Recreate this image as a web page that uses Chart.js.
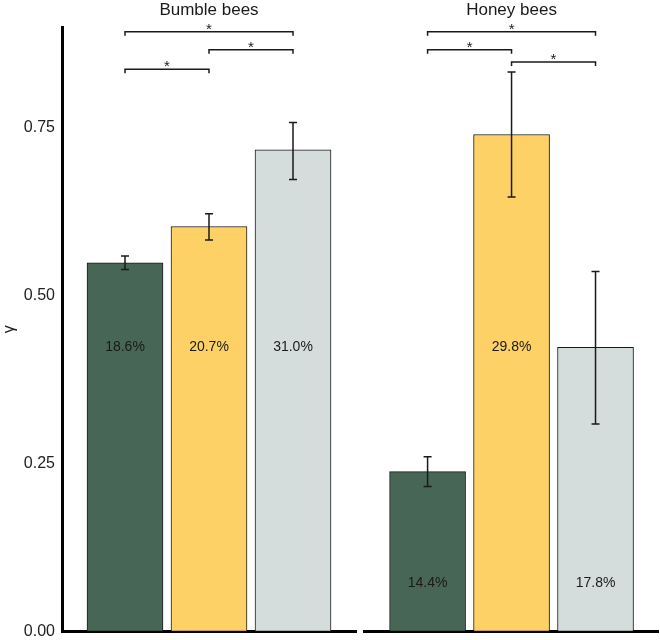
<!DOCTYPE html>
<html>
<head>
<meta charset="utf-8">
<script src="https://cdn.jsdelivr.net/npm/chart.js@4.4.1/dist/chart.umd.min.js"></script>
<style>
  html, body { margin: 0; padding: 0; background: #fff; }
  #wrap { position: relative; width: 660px; height: 640px; }
  #left { position: absolute; left: 0; top: 0; }
  #right { position: absolute; left: 360px; top: 0; }
</style>
</head>
<body>
<div id="wrap">
  <canvas id="left" width="360" height="640"></canvas>
  <canvas id="right" width="300" height="640"></canvas>
</div>
<script>
// data
const panelTitles = ['Bumble bees', 'Honey bees'];
const positions = [1, 2, 3];
const barColors = ['#486656', '#fdd166', '#d4dddc'];

const bumbleMeans = [0.549, 0.603, 0.717];
const bumbleLow = [0.539, 0.583, 0.673];
const bumbleHigh = [0.559, 0.622, 0.758];
const bumblePct = ['18.6%', '20.7%', '31.0%'];
const bumbleSig = [[0, 2, 0.893], [1, 2, 0.866], [0, 1, 0.837]];

const honeyMeans = [0.238, 0.740, 0.423];
const honeyLow = [0.216, 0.647, 0.309];
const honeyHigh = [0.260, 0.833, 0.536];
const honeyPct = ['14.4%', '29.8%', '17.8%'];
const honeySig = [[0, 2, 0.893], [0, 1, 0.866], [1, 2, 0.848]];

const yTicks = [0, 0.25, 0.5, 0.75];

const FONT = "'Liberation Sans', Arial, Helvetica, sans-serif";
const INK = '#1a1a1a';

function makePanel(id, title, means, low, high, pct, sig, showY, padL, padR) {
  const extras = {
    id: 'extras',
    afterDatasetsDraw(chart) {
      const ctx = chart.ctx;
      const xs = chart.scales.x, ys = chart.scales.y;
      const area = chart.chartArea;
      ctx.save();
      // error bars
      ctx.strokeStyle = INK;
      ctx.lineWidth = 1.5;
      positions.forEach((p, i) => {
        const x = xs.getPixelForValue(p);
        const y1 = ys.getPixelForValue(low[i]);
        const y2 = ys.getPixelForValue(high[i]);
        ctx.beginPath();
        ctx.moveTo(x, y1); ctx.lineTo(x, y2);
        ctx.moveTo(x - 4, y1); ctx.lineTo(x + 4, y1);
        ctx.moveTo(x - 4, y2); ctx.lineTo(x + 4, y2);
        ctx.stroke();
      });
      // percentage labels
      ctx.fillStyle = INK;
      ctx.font = '14px ' + FONT;
      ctx.textAlign = 'center';
      ctx.textBaseline = 'middle';
      positions.forEach((p, i) => {
        const x = xs.getPixelForValue(p);
        const yv = means[i] > 0.5 ? 0.423 : 0.072;
        ctx.fillText(pct[i], x, ys.getPixelForValue(yv));
      });
      // significance brackets
      ctx.lineWidth = 1.5;
      ctx.font = '15px ' + FONT;
      sig.forEach(([a, b, lvl]) => {
        const xa = xs.getPixelForValue(positions[a]);
        const xb = xs.getPixelForValue(positions[b]);
        const y = ys.getPixelForValue(lvl);
        ctx.beginPath();
        ctx.moveTo(xa, y + 4); ctx.lineTo(xa, y); ctx.lineTo(xb, y); ctx.lineTo(xb, y + 4);
        ctx.stroke();
        ctx.fillText('*', (xa + xb) / 2, y - 2);
      });
      // panel title
      ctx.font = '17px ' + FONT;
      ctx.fillText(title, (area.left + area.right) / 2, 10);
      ctx.restore();
    }
  };

  return new Chart(document.getElementById(id), {
    type: 'bar',
    data: {
      datasets: [{
        data: positions.map((x, i) => ({ x: x, y: means[i] })),
        backgroundColor: barColors,
        borderColor: INK,
        borderWidth: 1,
        borderSkipped: false,
        barThickness: 76
      }]
    },
    options: {
      responsive: false,
      animation: false,
      layout: { padding: { top: 27, bottom: 8.5, left: padL, right: padR } },
      plugins: { legend: { display: false }, tooltip: { enabled: false } },
      scales: {
        x: {
          type: 'linear', min: 0.25, max: 3.75, offset: false,
          ticks: { display: false },
          grid: { display: false, drawTicks: false },
          border: { display: true, color: '#000', width: 3 },
          afterFit: s => { s.height = 0; }
        },
        y: {
          display: showY,
          min: 0, max: 0.9,
          afterBuildTicks: s => { s.ticks = yTicks.map(v => ({ value: v })); },
          ticks: {
            callback: v => v.toFixed(2),
            font: { family: FONT, size: 16 },
            color: '#222',
            padding: 7
          },
          grid: { display: false, drawTicks: false },
          border: { display: true, color: '#000', width: 3 },
          title: { display: true, text: 'γ', font: { family: FONT, size: 16 }, color: '#222', padding: 0 },
          afterFit: s => { s.width = showY ? 62 : 0; s.paddingTop = 0; s.paddingBottom = 0; }
        }
      }
    },
    plugins: [extras]
  });
}

makePanel('left', panelTitles[0], bumbleMeans, bumbleLow, bumbleHigh, bumblePct, bumbleSig, true, 0, 4);
makePanel('right', panelTitles[1], honeyMeans, honeyLow, honeyHigh, honeyPct, honeySig, false, 4.6, 1.5);
</script>
</body>
</html>
